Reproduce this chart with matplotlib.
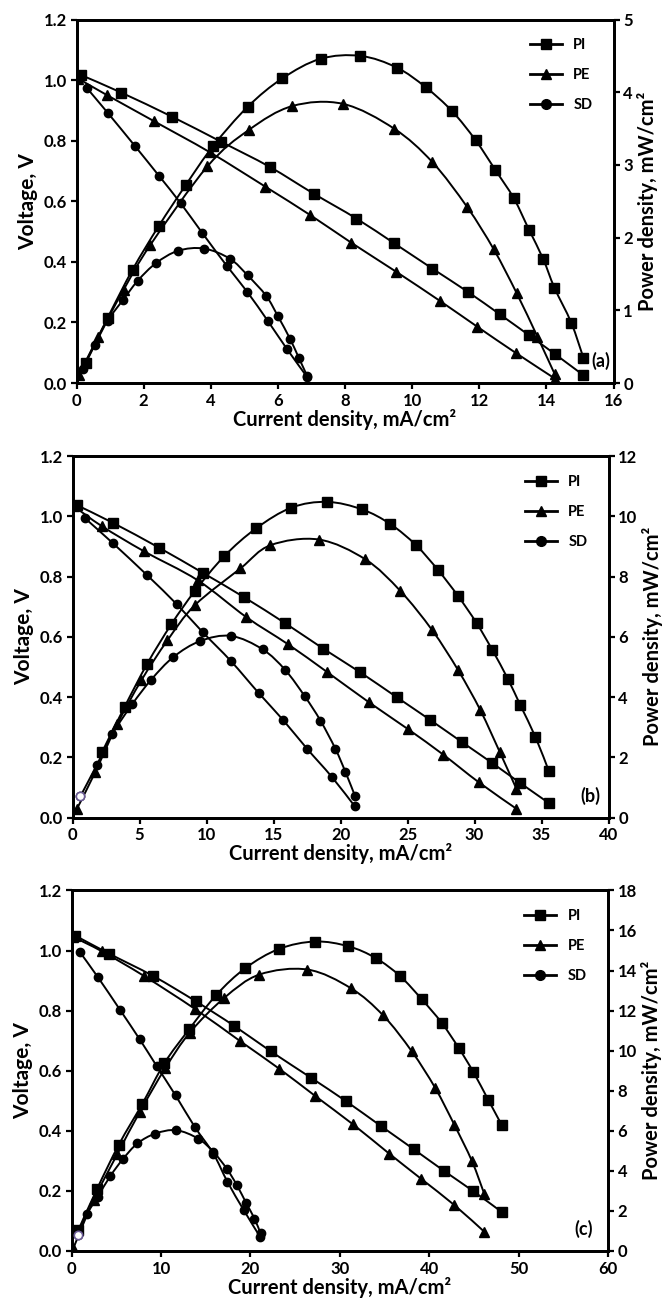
import matplotlib
matplotlib.use('Agg')
from matplotlib import pyplot as plt
from matplotlib.lines import Line2D
from matplotlib.path import Path
from matplotlib.patches import PathPatch
import numpy as np

plt.rcParams['font.family'] = ['Lato', 'DejaVu Sans']
plt.rcParams['font.weight'] = 'bold'

# ---- panel (a) ----
a_pi_vx = [0.13, 1.33, 2.85, 4.30, 5.75, 7.07, 8.34, 9.47, 10.60, 11.66, 12.61, 13.48, 14.25, 15.10]
a_pi_v = [1.017, 0.959, 0.879, 0.797, 0.714, 0.625, 0.543, 0.461, 0.378, 0.301, 0.227, 0.158, 0.096, 0.026]
a_pi_px = [0.27, 0.93, 1.67, 2.45, 3.25, 4.07, 5.10, 6.13, 7.27, 8.46, 9.54, 10.40, 11.19, 11.89, 12.48,
           13.03, 13.48, 13.90, 14.24, 14.74, 15.10]
a_pi_p = [0.28, 0.90, 1.56, 2.16, 2.72, 3.26, 3.80, 4.19, 4.46, 4.50, 4.34, 4.07, 3.74, 3.34, 2.93,
          2.54, 2.11, 1.71, 1.31, 0.83, 0.35]
a_pe_vx = [0.05, 0.90, 2.30, 3.97, 5.63, 6.97, 8.19, 9.53, 10.83, 11.94, 13.08, 14.25]
a_pe_v = [1.005, 0.951, 0.865, 0.762, 0.648, 0.554, 0.463, 0.367, 0.271, 0.186, 0.100, 0.015]
a_pe_px = [0.07, 0.65, 1.40, 2.20, 3.90, 5.13, 6.43, 7.94, 9.46, 10.60, 11.64, 12.43, 13.11, 13.73, 14.25]
a_pe_p = [0.11, 0.64, 1.28, 1.90, 2.98, 3.48, 3.81, 3.84, 3.50, 3.04, 2.42, 1.84, 1.24, 0.64, 0.12]
a_sd_vx = [0.30, 0.93, 1.73, 2.45, 3.10, 3.75, 4.47, 5.08, 5.70, 6.26, 6.87]
a_sd_v = [0.975, 0.892, 0.784, 0.685, 0.594, 0.495, 0.388, 0.302, 0.205, 0.114, 0.020]
a_sd_px = [0.20, 0.55, 0.93, 1.38, 1.83, 2.37, 3.03, 3.80, 4.57, 5.10, 5.65, 6.00, 6.36, 6.62, 6.87]
a_sd_p = [0.20, 0.53, 0.86, 1.14, 1.41, 1.65, 1.82, 1.85, 1.71, 1.48, 1.20, 0.92, 0.61, 0.35, 0.10]

# ---- panel (b) ----
b_pi_vx = [0.33, 3.03, 6.45, 9.70, 12.78, 15.84, 18.70, 21.44, 24.18, 26.66, 29.08, 31.32, 33.43, 35.55]
b_pi_v = [1.037, 0.978, 0.896, 0.813, 0.732, 0.646, 0.561, 0.483, 0.400, 0.325, 0.250, 0.181, 0.114, 0.048]
b_pi_px = [2.20, 3.88, 5.58, 7.38, 9.13, 11.33, 13.70, 16.34, 19.00, 21.61, 23.73, 25.64, 27.29, 28.78,
           30.15, 31.32, 32.48, 33.43, 34.55, 35.55]
b_pi_p = [2.17, 3.67, 5.11, 6.42, 7.52, 8.68, 9.60, 10.29, 10.48, 10.23, 9.74, 9.04, 8.21, 7.35,
          6.46, 5.57, 4.61, 3.72, 2.67, 1.54]
b_pe_vx = [0.08, 2.20, 5.33, 9.33, 12.95, 16.09, 19.00, 22.11, 25.05, 27.66, 30.32, 33.13]
b_pe_v = [1.034, 0.967, 0.884, 0.788, 0.666, 0.575, 0.483, 0.383, 0.293, 0.209, 0.117, 0.029]
b_pe_px = [0.33, 1.70, 3.33, 5.13, 7.08, 9.13, 12.53, 14.77, 18.38, 21.86, 24.47, 26.84, 28.78, 30.44, 31.89, 33.13]
b_pe_p = [0.29, 1.51, 3.09, 4.55, 5.88, 7.05, 8.27, 9.04, 9.23, 8.57, 7.52, 6.22, 4.89, 3.56, 2.17, 0.95]
b_sd_vx = [0.95, 3.03, 5.58, 7.78, 9.70, 11.83, 13.90, 15.69, 17.51, 19.33, 21.07]
b_sd_v = [0.993, 0.910, 0.804, 0.708, 0.616, 0.519, 0.413, 0.325, 0.228, 0.136, 0.037]
b_sd_px = [0.58, 1.83, 2.95, 4.45, 5.88, 7.53, 9.53, 11.83, 14.20, 15.89, 17.34, 18.50, 19.62, 20.37, 21.07]
b_sd_p = [0.70, 1.76, 2.76, 3.76, 4.58, 5.33, 5.86, 6.03, 5.58, 4.89, 4.02, 3.22, 2.28, 1.51, 0.73]

# ---- panel (c) ----
c_pi_vx = [0.38, 4.23, 9.13, 13.89, 18.19, 22.30, 26.75, 30.67, 34.59, 38.25, 41.68, 44.93, 48.10]
c_pi_v = [1.050, 0.989, 0.915, 0.831, 0.749, 0.664, 0.577, 0.499, 0.416, 0.339, 0.266, 0.199, 0.130]
c_pi_px = [0.75, 2.83, 5.28, 7.92, 10.38, 13.13, 16.20, 19.43, 23.20, 27.24, 30.97, 34.03, 36.75, 39.18,
           41.38, 43.28, 44.93, 46.60, 48.10]
c_pi_p = [1.05, 3.09, 5.31, 7.36, 9.38, 11.06, 12.79, 14.12, 15.08, 15.45, 15.21, 14.62, 13.72, 12.56,
          11.40, 10.15, 8.94, 7.55, 6.30]
c_pe_vx = [0.19, 3.40, 8.11, 13.77, 18.87, 23.20, 27.24, 31.49, 35.52, 39.06, 42.80, 46.16]
c_pe_v = [1.045, 0.997, 0.915, 0.806, 0.698, 0.607, 0.516, 0.421, 0.324, 0.241, 0.153, 0.064]
c_pe_px = [0.20, 2.45, 5.09, 7.62, 10.49, 13.21, 17.06, 21.00, 26.38, 31.23, 34.85, 38.06, 40.67, 42.80, 44.78, 46.16]
c_pe_p = [0.15, 2.54, 4.82, 6.94, 9.14, 10.90, 12.63, 13.80, 14.05, 13.12, 11.76, 9.96, 8.14, 6.31, 4.49, 2.85]
c_sd_vx = [0.94, 2.94, 5.40, 7.62, 9.50, 11.62, 13.77, 15.85, 17.43, 19.25, 21.06]
c_sd_v = [0.994, 0.911, 0.803, 0.704, 0.616, 0.518, 0.413, 0.324, 0.230, 0.136, 0.048]
c_sd_px = [0.68, 1.70, 2.90, 4.34, 5.74, 7.36, 9.36, 11.70, 14.15, 15.85, 17.36, 18.49, 19.55, 20.45, 21.13]
c_sd_p = [0.80, 1.83, 2.70, 3.75, 4.59, 5.37, 5.86, 6.03, 5.61, 4.95, 4.10, 3.28, 2.37, 1.62, 0.88]

series_names = ['PI', 'PE', 'SD']
markers = {'PI': 's', 'PE': '^', 'SD': 'o'}
msizes = {'PI': 6.5, 'PE': 6.5, 'SD': 6}

panels = [
    dict(tag='(a)', tagx=0.993, rect=[0.1154, 0.7058, 0.8100, 0.2792], xmax=16, xstep=2, pmax=5, pstep=1,
         data={'PI': (a_pi_vx, a_pi_v, a_pi_px, a_pi_p), 'PE': (a_pe_vx, a_pe_v, a_pe_px, a_pe_p),
               'SD': (a_sd_vx, a_sd_v, a_sd_px, a_sd_p)}, odd=False),
    dict(tag='(b)', tagx=0.985, rect=[0.1094, 0.3721, 0.8084, 0.2776], xmax=40, xstep=5, pmax=12, pstep=2,
         data={'PI': (b_pi_vx, b_pi_v, b_pi_px, b_pi_p), 'PE': (b_pe_vx, b_pe_v, b_pe_px, b_pe_p),
               'SD': (b_sd_vx, b_sd_v, b_sd_px, b_sd_p)}, odd=True),
    dict(tag='(c)', tagx=0.972, rect=[0.1081, 0.0392, 0.8089, 0.2769], xmax=60, xstep=10, pmax=18, pstep=2,
         data={'PI': (c_pi_vx, c_pi_v, c_pi_px, c_pi_p), 'PE': (c_pe_vx, c_pe_v, c_pe_px, c_pe_p),
               'SD': (c_sd_vx, c_sd_v, c_sd_px, c_sd_p)}, odd=True),
]


def smoothLine(ax, xs, ys):
    # smoothed line like the spreadsheet one: cubic bezier through every point
    pts = np.column_stack([xs, ys]).astype(float)
    n = len(pts)
    verts = [pts[0]]
    codes = [Path.MOVETO]
    for i in range(n - 1):
        p0 = pts[max(i - 1, 0)]
        p1 = pts[i]
        p2 = pts[i + 1]
        p3 = pts[min(i + 2, n - 1)]
        verts += [p1 + (p2 - p0) / 6.0, p2 - (p3 - p1) / 6.0, p2]
        codes += [Path.CURVE4] * 3
    ax.add_patch(PathPatch(Path(verts, codes), fill=False, edgecolor='black', lw=1.4))


fig = plt.figure(figsize=(6.63, 13.02), dpi=100)

for p in panels:
    ax = fig.add_axes(p['rect'])
    ax2 = ax.twinx()
    for name in series_names:
        vx, v, px, pw = p['data'][name]
        style = dict(color='black', ls='none', marker=markers[name], ms=msizes[name], mec='black', mfc='black')
        smoothLine(ax, vx, v)
        ax.plot(vx, v, **style)
        smoothLine(ax2, px, pw)
        ax2.plot(px, pw, **style)
    if p['odd']:
        # first SD power point is drawn as an open purple circle in the original
        vx, v, px, pw = p['data']['SD']
        ax2.plot(px[0], pw[0], marker='o', ms=6, mfc='white', mec='#6b5b95', mew=1.2, zorder=5)

    ax.set_xlim(0, p['xmax'])
    ax.set_ylim(0, 1.2)
    ax2.set_ylim(0, p['pmax'])
    ax.set_xticks(range(0, p['xmax'] + 1, p['xstep']))
    ax.set_yticks([0.0, 0.2, 0.4, 0.6, 0.8, 1.0, 1.2])
    ax.set_yticklabels(['{:.1f}'.format(t) for t in [0.0, 0.2, 0.4, 0.6, 0.8, 1.0, 1.2]])
    ax2.set_yticks(range(0, p['pmax'] + 1, p['pstep']))

    for a in (ax, ax2):
        for s in a.spines.values():
            s.set_linewidth(2.0)
        a.tick_params(direction='out', length=4, width=1.6, labelsize=12, pad=3)
        for lab in a.get_xticklabels() + a.get_yticklabels():
            lab.set_fontweight('bold')

    ax.set_xlabel('Current density, mA/cm²', fontsize=14.5, fontweight='bold', labelpad=0)
    ax.set_ylabel('Voltage, V', fontsize=15, fontweight='bold', labelpad=4)
    ax2.set_ylabel('Power density, mW/cm²', fontsize=14.5, fontweight='bold', labelpad=3)

    ax.text(p['tagx'], 0.06, p['tag'], transform=ax.transAxes, ha='right', va='center',
            fontsize=13, fontweight='bold')

    handles = [Line2D([], [], color='black', lw=2, marker=markers[n], ms=msizes[n] + 1) for n in series_names]
    ax.legend(handles, series_names, loc='upper right', bbox_to_anchor=(0.985, 0.985), frameon=False,
              handlelength=2.2, labelspacing=1.1, prop={'weight': 'bold', 'size': 10.5})

fig.savefig('out.png', dpi=100)
